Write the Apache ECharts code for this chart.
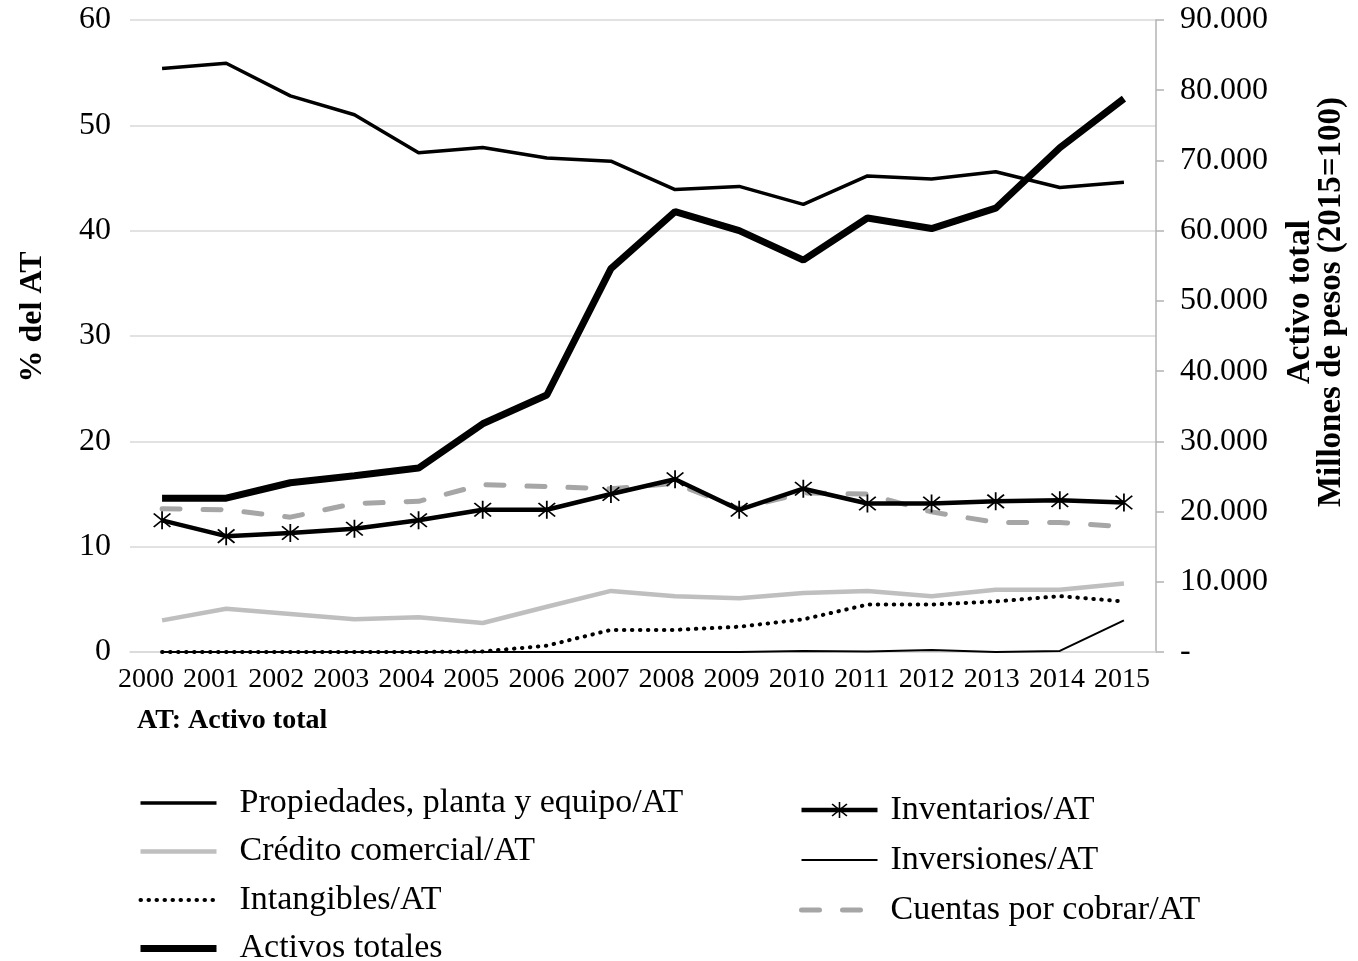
<!DOCTYPE html>
<html>
<head>
<meta charset="utf-8">
<script src="https://cdn.jsdelivr.net/npm/echarts@6/dist/echarts.min.js"></script>
<style>
html,body{margin:0;padding:0;background:#fff;}
#chart{width:1358px;height:961px;}
</style>
</head>
<body>
<div id="chart"></div>
<script>
const years = ['2000','2001','2002','2003','2004','2005','2006','2007','2008','2009','2010','2011','2012','2013','2014','2015'];
const propiedades = [55.4, 55.9, 52.8, 51.0, 47.4, 47.9, 46.9, 46.6, 43.9, 44.2, 42.5, 45.2, 44.9, 45.6, 44.1, 44.6];
const credito = [3.0, 4.1, 3.6, 3.1, 3.3, 2.75, 4.3, 5.8, 5.3, 5.1, 5.6, 5.8, 5.3, 5.9, 5.9, 6.5];
const intangibles = [0, 0, 0, 0, 0, 0.05, 0.6, 2.1, 2.1, 2.4, 3.1, 4.5, 4.5, 4.8, 5.3, 4.8];
const activosTotales = [21900, 21900, 24100, 25100, 26200, 32500, 36600, 54600, 62700, 60000, 55800, 61800, 60300, 63200, 71800, 78800];
const inventarios = [12.5, 11.0, 11.3, 11.7, 12.5, 13.5, 13.5, 15.0, 16.4, 13.5, 15.5, 14.1, 14.1, 14.3, 14.4, 14.2];
const inversiones = [0, 0, 0, 0, 0, 0, 0, 0, 0, 0, 0.1, 0.05, 0.2, 0, 0.1, 3.0];
const cuentas = [13.6, 13.5, 12.8, 14.1, 14.3, 15.9, 15.7, 15.5, 16.0, 13.6, 15.1, 15.0, 13.3, 12.3, 12.3, 11.9];

const leftTicks = {min: 0, max: 60, interval: 10};
const rightTicks = {min: 0, max: 90000, interval: 10000};

const FONT = '"Liberation Serif", "Times New Roman", serif';
const asterisk = 'path://M-0.08,-1L0.08,-1L0.08,1L-0.08,1Z M-0.69,-0.81L0.81,0.69L0.69,0.81L-0.81,-0.69Z M-0.81,0.69L0.69,-0.81L0.81,-0.69L-0.69,0.81Z';
const noFill = {color: 'rgba(0,0,0,0)', borderWidth: 0, borderColor: 'rgba(0,0,0,0)'};

const chart = echarts.init(document.getElementById('chart'), null, {renderer: 'canvas'});
chart.setOption({
  animation: false,
  backgroundColor: '#fff',
  textStyle: {fontFamily: FONT, color: '#000'},
  grid: [
    {left: 130, right: 202, top: 20, bottom: 309},
    {left: 113.5, right: 203.5, top: 20, bottom: 309}
  ],
  xAxis: [
    {
      type: 'category', gridIndex: 0,
      data: years,
      boundaryGap: true,
      axisLine: {show: true, lineStyle: {color: '#d9d9d9', width: 1.5}},
      axisTick: {show: false},
      axisLabel: {show: false}
    },
    {
      type: 'category', gridIndex: 1,
      data: years,
      boundaryGap: true,
      axisLine: {show: false},
      axisTick: {show: false},
      splitLine: {show: false},
      axisLabel: {fontFamily: FONT, fontSize: 28, color: '#000', margin: 14, interval: 0}
    }
  ],
  yAxis: [
    {
      type: 'value', gridIndex: 0, min: leftTicks.min, max: leftTicks.max, interval: leftTicks.interval,
      axisLine: {show: false}, axisTick: {show: false},
      splitLine: {show: true, lineStyle: {color: '#d9d9d9', width: 1.5}},
      axisLabel: {fontFamily: FONT, fontSize: 32, color: '#000', margin: 19}
    },
    {
      type: 'value', gridIndex: 0, position: 'right', min: rightTicks.min, max: rightTicks.max, interval: rightTicks.interval,
      axisLine: {show: true, lineStyle: {color: '#b3b3b3', width: 1.5}},
      axisTick: {show: true, length: 8, lineStyle: {color: '#b3b3b3', width: 1.5}},
      splitLine: {show: false},
      axisLabel: {fontFamily: FONT, fontSize: 32, color: '#000', margin: 24,
        formatter: v => v === 0 ? '-' : (v / 1000) + '.000'}
    },
    {
      type: 'value', gridIndex: 1, show: false, min: 0, max: 1
    }
  ],
  legend: [
    {
      orient: 'vertical', left: 137, top: 786, height: 180, padding: 0,
      itemWidth: 76, itemHeight: 20, itemGap: 14.5,
      lineStyle: {width: 'inherit'},
      data: ['Propiedades, planta y equipo/AT', 'Crédito comercial/AT', 'Intangibles/AT', 'Activos totales'],
      textStyle: {fontFamily: FONT, fontSize: 34, color: '#000', lineHeight: 34, padding: [0, 0, 0, 18]}
    },
    {
      orient: 'vertical', left: 799, top: 793, height: 168, padding: 0,
      itemWidth: 76, itemHeight: 20, itemGap: 16,
      lineStyle: {width: 'inherit'},
      data: ['Inventarios/AT', 'Inversiones/AT', 'Cuentas por cobrar/AT'],
      textStyle: {fontFamily: FONT, fontSize: 34, color: '#000', lineHeight: 34, padding: [0, 0, 0, 8]}
    }
  ],
  graphic: [
    {type: 'text', left: 137, top: 707, style: {text: 'AT: Activo total', font: 'bold 28px ' + FONT, fill: '#000'}},
    {type: 'text', x: 33, y: 317, rotation: Math.PI / 2,
      style: {text: '% del AT', font: 'bold 32px ' + FONT, fill: '#000', textAlign: 'center', textVerticalAlign: 'middle'}},
    {type: 'text', x: 1316, y: 302, rotation: Math.PI / 2,
      style: {text: 'Activo total\nMillones de pesos (2015=100)', font: 'bold 33px ' + FONT, lineHeight: 31, fill: '#000', textAlign: 'center', textVerticalAlign: 'middle'}}
  ],
  series: [
    {name: 'Activos totales', type: 'line', yAxisIndex: 1, data: activosTotales, symbol: 'none',
      lineStyle: {color: '#000', width: 7}, itemStyle: noFill, z: 2},
    {name: 'Propiedades, planta y equipo/AT', type: 'line', data: propiedades, symbol: 'none',
      lineStyle: {color: '#000', width: 3.5}, itemStyle: noFill, z: 3},
    {name: 'Crédito comercial/AT', type: 'line', data: credito, symbol: 'none',
      lineStyle: {color: '#bfbfbf', width: 4.5}, itemStyle: noFill, z: 3},
    {name: 'Intangibles/AT', type: 'line', data: intangibles, symbol: 'none',
      lineStyle: {color: '#000', width: 4, type: [0.5, 7.5], cap: 'round'}, itemStyle: noFill, z: 4},
    {name: 'Cuentas por cobrar/AT', type: 'line', data: cuentas, symbol: 'none',
      lineStyle: {color: '#a6a6a6', width: 5, type: [18, 23], cap: 'round'}, itemStyle: noFill, z: 3},
    {name: 'Inventarios/AT', type: 'line', data: inventarios, symbol: asterisk, symbolSize: 18, showAllSymbol: true,
      lineStyle: {color: '#000', width: 4.5}, itemStyle: {color: '#000'}, z: 5},
    {name: 'Inversiones/AT', type: 'line', data: inversiones, symbol: 'none',
      lineStyle: {color: '#000', width: 2}, itemStyle: noFill, z: 4}
  ]
});
</script>
</body>
</html>
